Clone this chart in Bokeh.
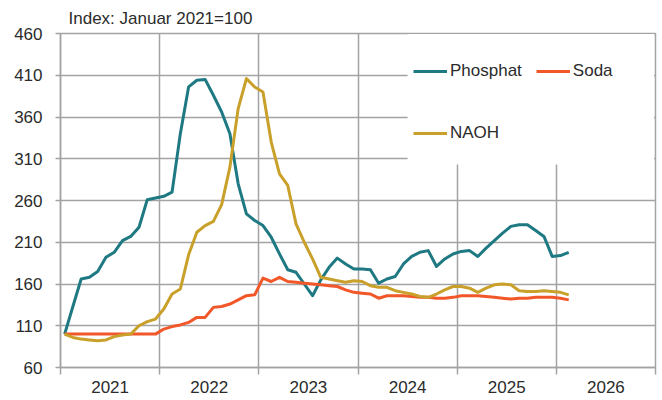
import pandas as pd
from bokeh.plotting import figure
from bokeh.models import (Legend, LegendItem, FixedTicker, BoxAnnotation, Range1d)
from bokeh.embed import file_html
from bokeh.resources import INLINE

# ---- data (monthly, Jan 2021 - Feb 2026), index Jan 2021 = 100 ----
months = pd.period_range("2021-01", "2026-02", freq="M")

phosphat = [100, 133, 166, 168, 175, 192, 198, 212, 217, 228, 261, 263,
            265, 270, 340, 396, 404, 405, 386, 366, 340, 280, 244, 236,
            230, 216, 196, 177, 174, 160, 146, 165, 180, 191, 184, 178,
            178, 177, 161, 166, 169, 184, 193, 198, 200, 181, 190, 196,
            199, 200, 193, 203, 212, 221, 229, 231, 231, 224, 217, 193,
            194, 198]

soda = [100, 100, 100, 100, 100, 100, 100, 100, 100, 100, 100, 100,
        106, 109, 111, 114, 120, 120, 132, 133, 136, 141, 146, 147,
        167, 163, 168, 163, 162, 161, 160, 159, 158, 157, 153, 150,
        149, 148, 143, 146, 146, 146, 145, 144, 144, 143, 143, 144,
        146, 146, 146, 145, 144, 143, 142, 143, 143, 144, 144, 144,
        143, 141]

naoh = [100, 96, 94, 93, 92, 93, 97, 99, 100, 110, 115, 118,
        130, 148, 154, 195, 222, 230, 235, 255, 300, 370, 406, 396,
        390, 330, 292, 278, 232, 210, 190, 168, 166, 164, 162, 164,
        163, 158, 156, 156, 152, 150, 148, 145, 144, 148, 153, 157,
        157, 155, 150, 155, 159, 160, 159, 152, 151, 151, 152, 151,
        150, 147]

years = [2021, 2022, 2023, 2024, 2025, 2026]
y_ticks = [60, 110, 160, 210, 260, 310, 360, 410, 460]
title_text = "Index: Januar 2021=100"

# mid-month positions on a decimal-year axis
xs = [m.year + (m.month - 0.5) / 12 for m in months]

TEAL = "#1e7982"
RED = "#f2572a"
GOLD = "#c9a02a"
GRID = "#a3a3a3"
TXT = "#2b2b2b"
FONT = "Liberation Sans"

p = figure(width=660, height=398, x_range=Range1d(2021, 2027), y_range=Range1d(60, 460),
           output_backend="svg", toolbar_location=None,
           min_border_left=60, min_border_right=5, min_border_top=33, min_border_bottom=31,
           title=title_text)
p.background_fill_color = "white"
p.border_fill_color = "white"
p.outline_line_color = GRID
p.outline_line_width = 1.5

p.title.text_font = FONT
p.title.text_font_size = "17px"
p.title.text_font_style = "normal"
p.title.text_color = TXT
p.title.align = "left"
p.title.offset = 8
p.title.standoff = 12

# y axis
p.yaxis.ticker = FixedTicker(ticks=y_ticks)
p.yaxis.axis_line_color = GRID
p.yaxis.axis_line_width = 1.5
p.yaxis.major_tick_line_color = GRID
p.yaxis.major_tick_line_width = 1.5
p.yaxis.major_tick_out = 5
p.yaxis.major_tick_in = 0
p.yaxis.minor_tick_line_color = None
p.yaxis.major_label_standoff = 13
p.yaxis.major_label_text_font = FONT
p.yaxis.major_label_text_font_size = "17px"
p.yaxis.major_label_text_color = TXT

# x axis: labels mid-year, tick marks at year boundaries
mids = [y + 0.5 for y in years]
bounds = years + [years[-1] + 1]
p.xaxis.ticker = FixedTicker(ticks=mids, minor_ticks=bounds)
p.xaxis.major_label_overrides = {m: str(y) for m, y in zip(mids, years)}
p.xaxis.axis_line_color = GRID
p.xaxis.axis_line_width = 1.5
p.xaxis.major_tick_line_color = None
p.xaxis.major_tick_out = 0
p.xaxis.major_tick_in = 0
p.xaxis.minor_tick_line_color = GRID
p.xaxis.minor_tick_line_width = 1.5
p.xaxis.minor_tick_out = 7
p.xaxis.minor_tick_in = 0
p.xaxis.major_label_standoff = 6
p.xaxis.major_label_text_font = FONT
p.xaxis.major_label_text_font_size = "17px"
p.xaxis.major_label_text_color = TXT

# grids
p.xgrid.ticker = FixedTicker(ticks=bounds)
p.xgrid.grid_line_color = GRID
p.xgrid.grid_line_width = 1.5
p.ygrid.grid_line_color = GRID
p.ygrid.grid_line_width = 1.5

# white area behind the legend
p.add_layout(BoxAnnotation(left=2024.5, right=2026.985, bottom=303, top=459.3,
                           fill_color="white", fill_alpha=1.0, line_color=None,
                           level="underlay"))

r_ph = p.line(xs, phosphat, line_color=TEAL, line_width=3, line_join="round")
r_so = p.line(xs, soda, line_color=RED, line_width=3, line_join="round")
r_na = p.line(xs, naoh, line_color=GOLD, line_width=3, line_join="round")

def make_legend(items, loc):
    lg = Legend(items=items, location=loc, orientation="horizontal",
                glyph_width=34, glyph_height=20, label_height=20,
                label_standoff=3, spacing=14, padding=0, margin=0,
                border_line_color=None, background_fill_alpha=0,
                label_text_font=FONT, label_text_font_size="17px",
                label_text_color=TXT)
    return lg

p.add_layout(make_legend([LegendItem(label="Phosphat", renderers=[r_ph]),
                          LegendItem(label="Soda", renderers=[r_so])], (353, 286)))
p.add_layout(make_legend([LegendItem(label="NAOH", renderers=[r_na])], (353, 224)))

open("out.html", "w").write(file_html(p, INLINE))
